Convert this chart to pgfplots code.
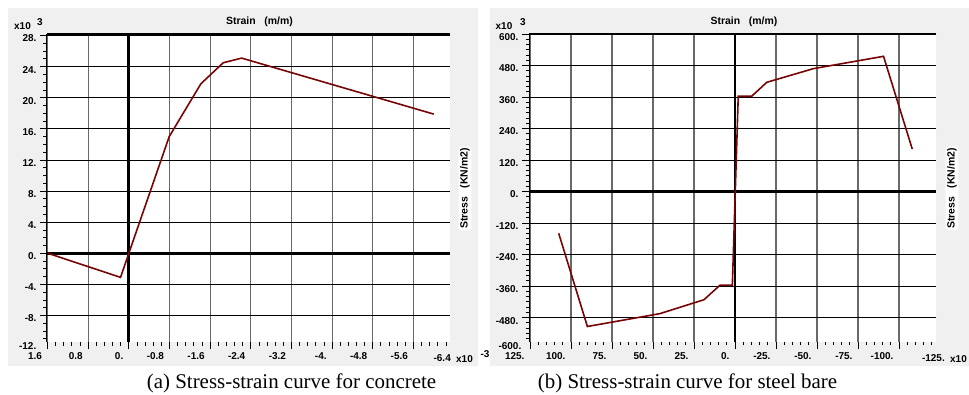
\documentclass[border=0pt]{standalone}
\usepackage{pgfplots}
\pgfplotsset{compat=1.18}
\usepackage{fontspec}
\setmainfont{Liberation Sans}
\newfontfamily\capfont{Liberation Serif}
\definecolor{panelbg}{RGB}{240,240,240}
\definecolor{vgrid}{RGB}{105,105,105}
\definecolor{curve}{RGB}{120,5,5}

\pgfplotsset{
  ssstyle/.style={
    scale only axis,
    height=308bp,
    x dir=reverse,
    axis background/.style={fill=white},
    axis line style={draw=none},
    tick align=outside,
    xtick pos=bottom, ytick pos=left,
    major tick length=7bp, minor tick length=3.5bp,
    every tick/.style={black, line width=0.8bp},
    xmajorgrids, ymajorgrids,
    x grid style={vgrid, line width=1.2bp},
    y grid style={black, line width=0.9bp},
    ticklabel style={font=\fontsize{10}{12}\selectfont\bfseries},
    xticklabel style={anchor=north east, xshift=-2bp},
    yticklabel style={anchor=east, yshift=-3bp},
    clip=false,
    extra x ticks={0}, extra x tick labels={},
    extra x tick style={grid=major, x grid style={black, line width=2.8bp}, major tick length=0pt},
    extra y ticks={0}, extra y tick labels={},
    extra y tick style={grid=major, y grid style={black, line width=2.8bp}, major tick length=0pt},
  }
}

\begin{document}
\begin{tikzpicture}[x=1bp, y=1bp]
\useasboundingbox (0,0) rectangle (969,394);
\fill[panelbg] (8,28) rectangle (478,386);
\fill[panelbg] (490,28) rectangle (969,386);

% ---------------- (a) concrete ----------------
\begin{axis}[ssstyle, at={(248.5bp,206bp)}, anchor=center, width=403bp,
  xmin=-6.32, xmax=1.61, ymin=-11.4, ymax=28.2,
  xtick={-5.6,-4.8,-4,-3.2,-2.4,-1.6,-0.8,0,0.8,1.6},
  xticklabels={-5.6,-4.8,-4.,-3.2,-2.4,-1.6,-0.8,0.,0.8,1.6},
  minor xtick={-6.24,-6.08,-5.92,-5.76,-5.44,-5.28,-5.12,-4.96,-4.64,-4.48,-4.32,-4.16,-3.84,-3.68,-3.52,-3.36,-3.04,-2.88,-2.72,-2.56,-2.24,-2.08,-1.92,-1.76,-1.44,-1.28,-1.12,-0.96,-0.64,-0.48,-0.32,-0.16,0.16,0.32,0.48,0.64,0.96,1.12,1.28,1.44},
  ytick={-8,-4,0,4,8,12,16,20,24,28},
  yticklabels={-8.,-4.,0.,4.,8.,12.,16.,20.,24.,28.},
  minor ytick={-11,-10,-9,-7,-6,-5,-3,-2,-1,1,2,3,5,6,7,9,10,11,13,14,15,17,18,19,21,22,23,25,26,27},
]
\addplot[curve, line width=1.6bp, mark=none] coordinates {
  (1.59,0) (0.163,-3.09) (0,0) (-0.794,15.0) (-1.418,21.8) (-1.857,24.5) (-2.22,25.1) (-6.0,17.9)
};
\draw[black, line width=2.6bp] (rel axis cs:0,1) -- (rel axis cs:1,1);
\draw[black, line width=1bp] (rel axis cs:0,0) -- (rel axis cs:0,1);
\end{axis}

% ---------------- (b) steel ----------------
\begin{axis}[ssstyle, at={(732.5bp,206bp)}, anchor=center, width=407bp,
  xmin=-122.6, xmax=125.6, ymin=-573, ymax=600,
  xtick={-100,-75,-50,-25,0,25,50,75,100,125},
  xticklabels={-100.,-75.,-50.,-25.,0.,25.,50.,75.,100.,125.},
  minor xtick={-120,-115,-110,-105,-95,-90,-85,-80,-70,-65,-60,-55,-45,-40,-35,-30,-20,-15,-10,-5,5,10,15,20,30,35,40,45,55,60,65,70,80,85,90,95,105,110,115,120},
  ytick={-480,-360,-240,-120,0,120,240,360,480,600},
  yticklabels={-480.,-360.,-240.,-120.,0.,120.,240.,360.,480.,600.},
  minor ytick={-560,-540,-520,-500,-460,-440,-420,-400,-380,-340,-320,-300,-280,-260,-220,-200,-180,-160,-140,-100,-80,-60,-40,-20,20,40,60,80,100,140,160,180,200,220,260,280,300,320,340,380,400,420,440,460,500,520,540,560,580},
]
\addplot[curve, line width=1.6bp, mark=none] coordinates {
  (107.5,-159) (90,-514) (45.8,-465) (18.9,-412) (9.2,-357) (1.6,-357)
  (-2.0,363) (-10.2,363) (-19.4,416) (-47.8,468) (-90.6,515) (-108.1,162)
};
\draw[black, line width=2.6bp] (rel axis cs:0,1) -- (rel axis cs:1,1);
\draw[black, line width=1bp] (rel axis cs:0,0) -- (rel axis cs:0,1);
\end{axis}

% ---------------- texts ----------------
\begin{scope}[every node/.style={font=\fontsize{10}{12}\selectfont\bfseries, inner sep=1bp}]
  % panel a
  \node at (259.5,372) {\fontsize{10.5}{12}\selectfont Strain\ \ \ (m/m)};
  \node at (22.5,368) {x10};
  \node at (40,372) {3};
  \node[anchor=east] at (37.5,48) {-12.};
  \node[anchor=east] at (452,36) {-6.4};
  \node at (464.5,35) {x10};
  \node at (485,40) {-3};
  \node[rotate=90, fill=white, rounded corners=3bp, inner sep=1.5bp] at (465,205.5) {\fontsize{10.5}{12}\selectfont Stress\ \ \ (KN/m2)};
  % panel b
  \node at (744,372) {\fontsize{10.5}{12}\selectfont Strain\ \ \ (m/m)};
  \node at (504,368) {x10};
  \node at (523,372) {3};
  \node[anchor=east] at (522.5,48) {-600.};
  \node[anchor=east] at (946,36) {-125.};
  \node at (958.5,35) {x10};
  \node at (975,40) {-3};
  \node[rotate=90, fill=white, rounded corners=3bp, inner sep=1.5bp] at (952,205.5) {\fontsize{10.5}{12}\selectfont Stress\ \ \ (KN/m2)};
\end{scope}

\node[anchor=base, font={\capfont\fontsize{21}{24}\selectfont}] at (291.5,6) {(a) Stress-strain curve for concrete};
\node[anchor=base, font={\capfont\fontsize{21}{24}\selectfont}] at (687.5,6) {(b) Stress-strain curve for steel bare};
\end{tikzpicture}
\end{document}
